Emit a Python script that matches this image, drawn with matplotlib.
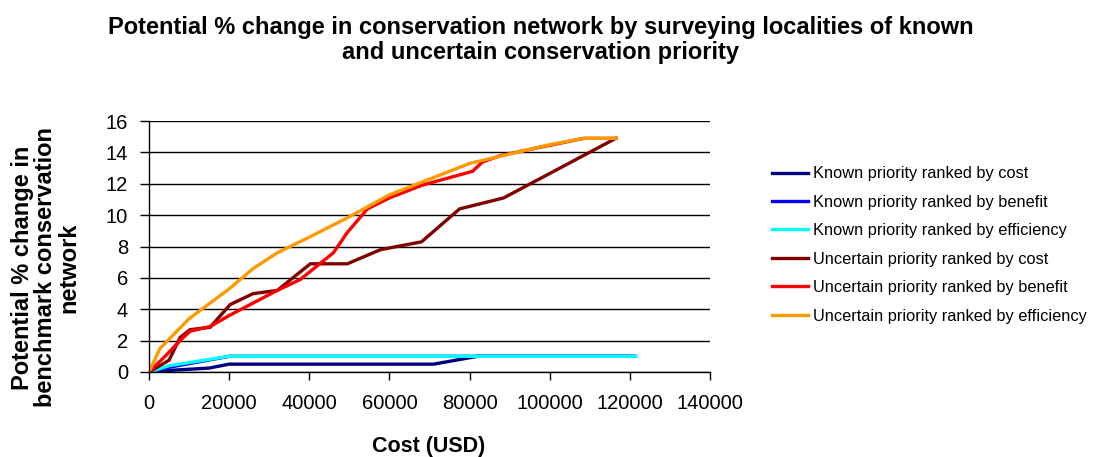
import matplotlib
matplotlib.use("Agg")
import matplotlib.pyplot as plt

plt.rcParams['font.family'] = ['Liberation Sans', 'DejaVu Sans']

# Data
known_cost_x = [0, 5000, 15000, 20000, 71000, 82000, 121000]
known_cost_y = [0, 0.1, 0.25, 0.5, 0.5, 1.0, 1.0]

known_benefit_x = [0, 5000, 20000, 121000]
known_benefit_y = [0, 0.3, 1.0, 1.0]

known_eff_x = [0, 5000, 20000, 121500]
known_eff_y = [0, 0.4, 1.0, 1.0]

unc_cost_x = [0, 5000, 7750, 10250, 15250, 20250, 26000, 32000, 40250, 49500, 57750, 68000, 77500, 88500, 116500]
unc_cost_y = [0, 0.75, 2.2, 2.7, 2.85, 4.3, 5.0, 5.2, 6.9, 6.9, 7.8, 8.3, 10.4, 11.1, 14.9]

unc_benefit_x = [0, 4000, 7750, 10250, 15250, 20000, 32000, 37750, 46000, 49500, 54500, 60000, 68000, 80750, 83250, 87750, 97000, 108500, 116500]
unc_benefit_y = [0, 1.0, 2.0, 2.6, 2.9, 3.6, 5.2, 5.9, 7.6, 8.9, 10.4, 11.1, 11.9, 12.8, 13.4, 13.8, 14.3, 14.9, 14.9]

unc_eff_x = [0, 2750, 10000, 20000, 26000, 32000, 40000, 50000, 60000, 70000, 80000, 90000, 100000, 108500, 116500]
unc_eff_y = [0, 1.5, 3.4, 5.3, 6.6, 7.6, 8.6, 9.9, 11.3, 12.3, 13.3, 13.9, 14.5, 14.9, 14.9]

labels = [
    "Known priority ranked by cost",
    "Known priority ranked by benefit",
    "Known priority ranked by efficiency",
    "Uncertain priority ranked by cost",
    "Uncertain priority ranked by benefit",
    "Uncertain priority ranked by efficiency",
]
colors = ["#000080", "#0000FF", "#00FFFF", "#800000", "#FF0000", "#FF9900"]
x_ticks = [0, 20000, 40000, 60000, 80000, 100000, 120000, 140000]
y_ticks = [0, 2, 4, 6, 8, 10, 12, 14, 16]

fig = plt.figure(figsize=(10.94, 4.57), dpi=100)
ax = fig.add_axes([0.1362, 0.186, 0.649 - 0.1362, 0.735 - 0.186])

series = [
    (known_cost_x, known_cost_y),
    (known_benefit_x, known_benefit_y),
    (known_eff_x, known_eff_y),
    (unc_cost_x, unc_cost_y),
    (unc_benefit_x, unc_benefit_y),
    (unc_eff_x, unc_eff_y),
]
for (xs, ys), lab, c in zip(series, labels, colors):
    ax.plot(xs, ys, color=c, lw=2.4, label=lab, solid_joinstyle='miter')

ax.set_xlim(0, 140000)
ax.set_ylim(0, 16)
ax.set_xticks(x_ticks)
ax.set_yticks(y_ticks)
ax.tick_params(axis='both', labelsize=14.5, direction='out', width=1, color='black')
ax.tick_params(axis='x', length=5.8, pad=10)
ax.tick_params(axis='y', length=6.5, pad=8.5)
ax.grid(axis='y', color='black', lw=1)
ax.set_axisbelow(True)
for s in ['top', 'right']:
    ax.spines[s].set_visible(False)
for s in ['left', 'bottom']:
    ax.spines[s].set_color('black')
    ax.spines[s].set_linewidth(1)

fig.text(0.392, 0.024, "Cost (USD)", ha='center', va='center', fontsize=15.5, fontweight='bold')
fig.text(0.042, 0.415, "Potential % change in\nbenchmark conservation\nnetwork", ha='center', va='center',
         rotation=90, multialignment='center', fontsize=17, fontweight='bold', linespacing=1.0)

fig.text(0.494, 0.912, "Potential % change in conservation network by surveying localities of known\nand uncertain conservation priority",
         ha='center', va='center', fontsize=17, fontweight='bold', linespacing=1.12)

leg = fig.legend(loc='center left', bbox_to_anchor=(0.7057, 0.464), frameon=False,
                 fontsize=11.8, handlelength=2.2, labelspacing=0.82, handletextpad=0.3,
                 borderpad=0, borderaxespad=0)

fig.savefig("out.png", dpi=100)
